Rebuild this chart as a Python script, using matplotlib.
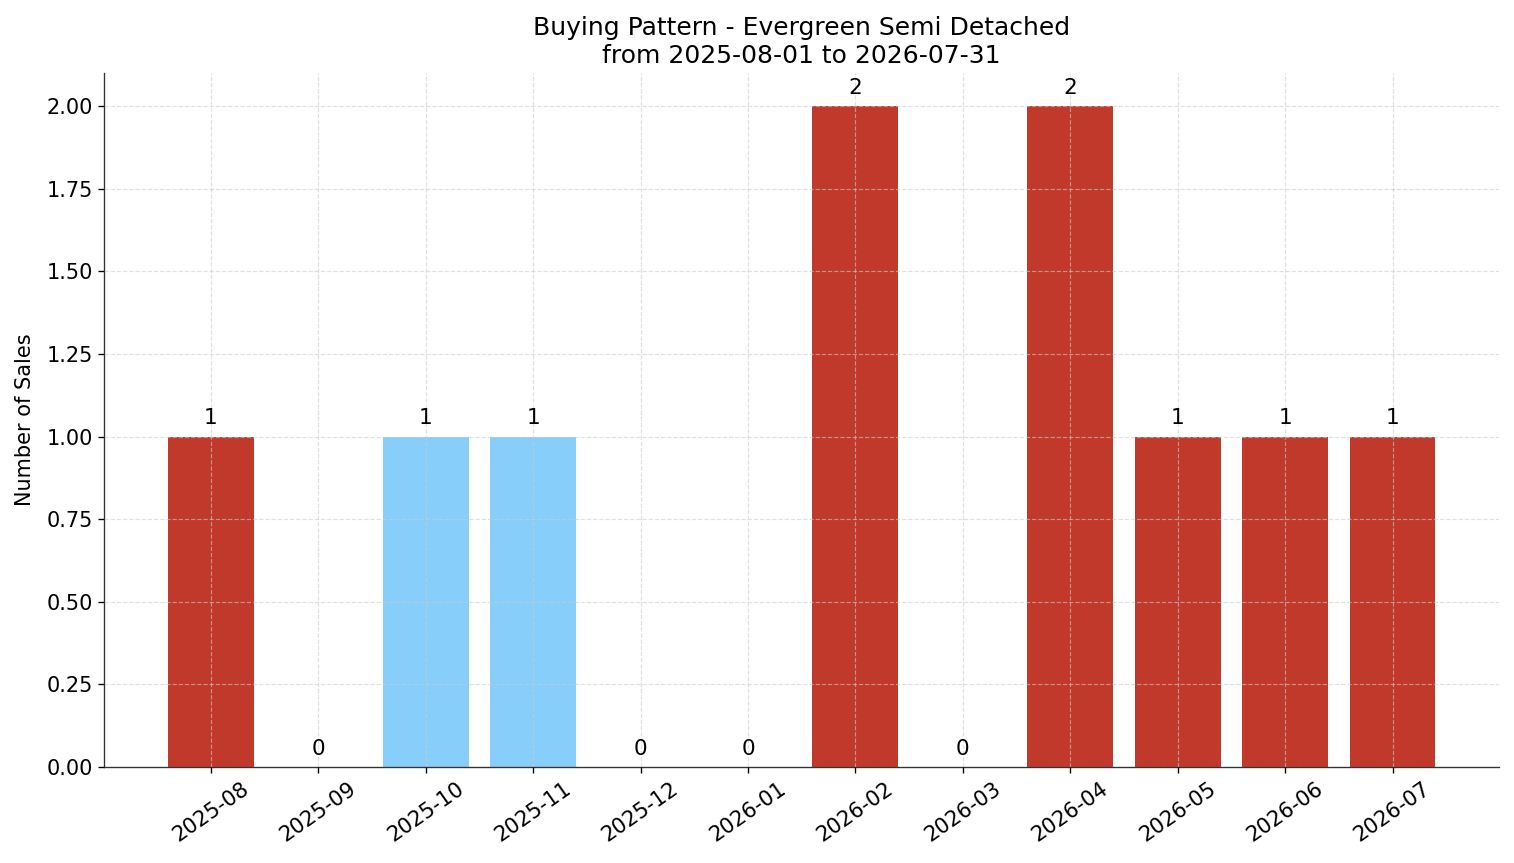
import matplotlib
matplotlib.use("Agg")
import matplotlib.pyplot as plt

months = ["2025-08", "2025-09", "2025-10", "2025-11", "2025-12", "2026-01",
          "2026-02", "2026-03", "2026-04", "2026-05", "2026-06", "2026-07"]
sales = [1, 0, 1, 1, 0, 0, 2, 0, 2, 1, 1, 1]
colors = ["#C0392B", "#C0392B", "#87CEFA", "#87CEFA", "#C0392B", "#C0392B",
          "#C0392B", "#C0392B", "#C0392B", "#C0392B", "#C0392B", "#C0392B"]

fig, ax = plt.subplots(figsize=(15.14 / 1.2, 8.63 / 1.2), dpi=120)
fig.subplots_adjust(left=0.069, right=0.990, top=0.9154, bottom=0.1112)
x = range(len(months))
ax.bar(x, sales, color=colors, width=0.8, zorder=1)
for xi, v in zip(x, sales):
    ax.text(xi, v + 0.025, str(v), ha="center", va="bottom", fontsize=13)
ax.set_xticks(list(x))
ax.set_xticklabels(months, rotation=35, fontsize=12.7)
ax.tick_params(axis="y", labelsize=12.5)
ax.set_ylabel("Number of Sales", fontsize=12.5, labelpad=7)
ax.set_title("Buying Pattern - Evergreen Semi Detached\nfrom 2025-08-01 to 2026-07-31", fontsize=15)
ax.set_ylim(0, 2.1)
ax.set_axisbelow(False)
ax.grid(True, linestyle="--", color="#cccccc", linewidth=0.7, alpha=0.6, zorder=3)
ax.spines["top"].set_visible(False)
ax.spines["right"].set_visible(False)
for s in ("left", "bottom"):
    ax.spines[s].set_color("#333333")
fig.savefig("out.png", dpi=120)
